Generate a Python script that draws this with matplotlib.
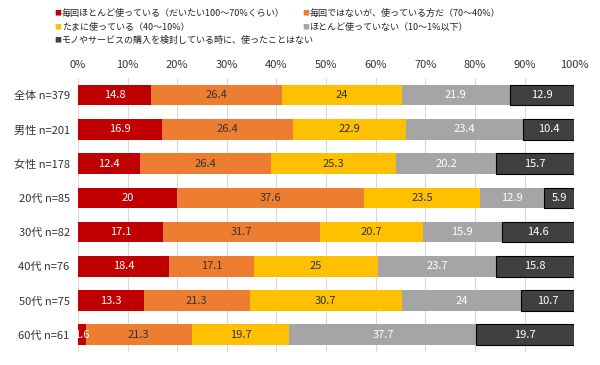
import matplotlib
matplotlib.use("Agg")
import matplotlib.pyplot as plt
import numpy as np

plt.rcParams['font.family'] = ['Noto Sans CJK JP', 'DejaVu Sans']

# データ
groups = ["全体 n=379", "男性 n=201", "女性 n=178", "20代 n=85",
          "30代 n=82", "40代 n=76", "50代 n=75", "60代 n=61"]
series_names = ["毎回ほとんど使っている（だいたい100～70%くらい）",
                "毎回ではないが、使っている方だ（70～40%）",
                "たまに使っている（40～10%）",
                "ほとんど使っていない（10～1%以下）",
                "モノやサービスの購入を検討している時に、使ったことはない"]
always = [14.8, 16.9, 12.4, 20, 17.1, 18.4, 13.3, 1.6]
often = [26.4, 26.4, 26.4, 37.6, 31.7, 17.1, 21.3, 21.3]
sometimes = [24, 22.9, 25.3, 23.5, 20.7, 25, 30.7, 19.7]
rarely = [21.9, 23.4, 20.2, 12.9, 15.9, 23.7, 24, 37.7]
never = [12.9, 10.4, 15.7, 5.9, 14.6, 15.8, 10.7, 19.7]

values = [always, often, sometimes, rarely, never]
colors = ["#C00000", "#ED7D31", "#FFC000", "#A5A5A5", "#404040"]
text_colors = ["white", "#333333", "#333333", "white", "white"]
edges = ["none", "none", "none", "none", "black"]

fig = plt.figure(figsize=(6, 3.65), dpi=100)
ax = fig.add_axes([0.13, 0.036, 0.827, 0.75])

y = np.arange(len(groups))
left = np.zeros(len(groups))
for vals, c, tc, ec in zip(values, colors, text_colors, edges):
    vals = np.array(vals)
    ax.barh(y, vals, left=left, height=0.6, color=c, edgecolor=ec,
            linewidth=0.8 if ec != "none" else 0, zorder=3)
    for yi, l, v in zip(y, left, vals):
        ax.text(l + v / 2, yi, f"{v:g}", ha="center", va="center",
                color=tc, fontsize=8, zorder=4)
    left += vals

ax.set_xlim(0, 100)
ax.set_ylim(len(groups) - 0.5, -0.5)
ax.set_yticks(y)
ax.set_yticklabels(groups, fontsize=8, color="#333333")
ax.set_xticks(np.arange(0, 101, 10))
ax.set_xticklabels([f"{t}%" for t in range(0, 101, 10)], fontsize=8, color="#333333")
ax.xaxis.tick_top()
ax.tick_params(length=0, pad=6)
ax.grid(axis="x", color="#D9D9D9", linewidth=0.8, zorder=0)
for s in ax.spines.values():
    s.set_visible(False)

# 凡例
legend_pos = [(0.09, 0.963), (0.503, 0.963), (0.09, 0.926), (0.503, 0.926), (0.09, 0.889)]
for (lx, ly), name, c in zip(legend_pos, series_names, colors):
    fig.text(lx, ly, "■", color=c, fontsize=5, va="center", ha="left")
    fig.text(lx + 0.013, ly, name, color="#222222", fontsize=6.5, va="center", ha="left")

fig.savefig("out.png", dpi=100)
